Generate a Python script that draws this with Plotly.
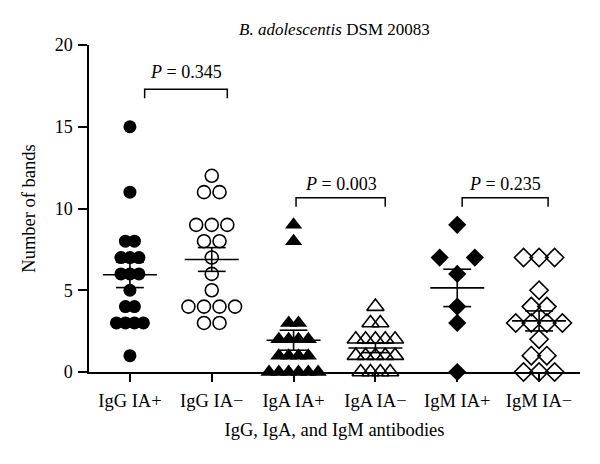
import numpy as np
import plotly.graph_objects as go

# ---------------- data ----------------
categories = ["IgG IA+", "IgG IA−", "IgA IA+", "IgA IA−", "IgM IA+", "IgM IA−"]
igg_pos = [15, 11, 8, 8, 7, 7, 7, 6, 6, 6, 5, 4, 4, 3, 3, 3, 3, 1]
igg_neg = [12, 11, 11, 9, 9, 9, 8, 8, 7, 6, 5, 4, 4, 4, 4, 3, 3]
iga_pos = [9, 8, 3, 3, 2, 2, 2, 2, 1, 1, 1, 1, 0, 0, 0, 0, 0, 0]
iga_neg = [4, 3, 3, 2, 2, 2, 2, 2, 1, 1, 1, 1, 1, 0, 0, 0, 0]
igm_pos = [9, 7, 7, 6, 4, 3, 0]
igm_neg = [7, 7, 7, 5, 4, 4, 3, 3, 3, 3, 2, 1, 1, 0, 0, 0]
p_values = ["0.345", "0.003", "0.235"]
y_ticks = [0, 5, 10, 15, 20]

groups = [igg_pos, igg_neg, iga_pos, iga_neg, igm_pos, igm_neg]

# ---------------- styles ----------------
FONT = "Liberation Serif"
symbols = ["circle", "circle-open", "triangle-up", "triangle-up-open", "diamond", "diamond-open"]
msizes = [13, 13, 15, 15, 14, 14]
spacing = [0.11, 0.19, 0.12, 0.12, 0.43, 0.19]   # horizontal spread per group (category units)
bracket_x = [(0.18, 1.19), (2.03, 3.12), (4.06, 5.11)]
bracket_y = [17.3, 10.65, 10.65]
bracket_drop = 0.55
text_y = [18.35, 11.5, 11.5]


def spread(vals, s):
    xs = []
    counts = {}
    for v in vals:
        counts[v] = counts.get(v, 0) + 1
    seen = {}
    for v in vals:
        n = counts[v]
        k = seen.get(v, 0)
        seen[v] = k + 1
        xs.append((k - (n - 1) / 2) * s)
    return xs


fig = go.Figure()

for i, vals in enumerate(groups):
    offs = spread(vals, spacing[i])
    xs = [i + o for o in offs]
    open_sym = symbols[i].endswith("open")
    fig.add_trace(go.Scatter(
        x=xs, y=vals, mode="markers", cliponaxis=False, showlegend=False,
        marker=dict(symbol=symbols[i], size=msizes[i], color="black",
                    line=dict(color="black", width=1.6 if open_sym else 0)),
    ))

# mean ± SEM
for i, vals in enumerate(groups):
    a = np.array(vals, dtype=float)
    m = a.mean()
    sem = a.std(ddof=1) / np.sqrt(len(a))
    hw, cw = 0.33, 0.17
    xs = [i - hw, i + hw, None, i, i, None, i - cw, i + cw, None, i - cw, i + cw]
    ys = [m, m, None, m - sem, m + sem, None, m + sem, m + sem, None, m - sem, m - sem]
    fig.add_trace(go.Scatter(x=xs, y=ys, mode="lines", showlegend=False, cliponaxis=False,
                             line=dict(color="black", width=1.6)))

# P-value brackets
for j, p in enumerate(p_values):
    x0, x1 = bracket_x[j]
    yb = bracket_y[j]
    fig.add_trace(go.Scatter(
        x=[x0, x0, x1, x1], y=[yb - bracket_drop, yb, yb, yb - bracket_drop],
        mode="lines", showlegend=False, cliponaxis=False,
        line=dict(color="black", width=1.5)))
    fig.add_annotation(x=(x0 + x1) / 2, y=text_y[j], xref="x", yref="y",
                       text=f"<i>P</i> = {p}", showarrow=False,
                       font=dict(family=FONT, size=18, color="black"))

fig.add_annotation(x=2.5, y=1.046, xref="x", yref="paper", yanchor="middle",
                   showarrow=False,
                   text="<i>B. adolescentis</i> DSM 20083",
                   font=dict(family=FONT, size=17, color="black"))

# page body has an 8px margin: figure is shifted by (8, 8), so compensate
fig.update_layout(
    width=592, height=456,
    margin=dict(l=81, r=20, t=37, b=92),
    plot_bgcolor="white", paper_bgcolor="white",
    font=dict(family=FONT, size=18, color="black"),
    xaxis=dict(range=[-0.5, 5.5], tickmode="array", tickvals=list(range(len(categories))),
               ticktext=categories, showline=True, linecolor="black", linewidth=1.5,
               ticks="outside", ticklen=8, tickwidth=1.5, tickcolor="black",
               ticklabelstandoff=3, tickfont=dict(size=18.5),
               showgrid=False, zeroline=False,
               title=dict(text="IgG, IgA, and IgM antibodies", standoff=13,
                          font=dict(family=FONT, size=18.5))),
    yaxis=dict(range=[0, 20], tickmode="array", tickvals=y_ticks,
               showline=True, linecolor="black", linewidth=1.5,
               ticks="outside", ticklen=9, tickwidth=1.5, tickcolor="black",
               ticklabelstandoff=2,
               showgrid=False, zeroline=False,
               title=dict(text="Number of bands", standoff=14,
                          font=dict(family=FONT, size=18.5))),
)

fig.write_html("out.html")
